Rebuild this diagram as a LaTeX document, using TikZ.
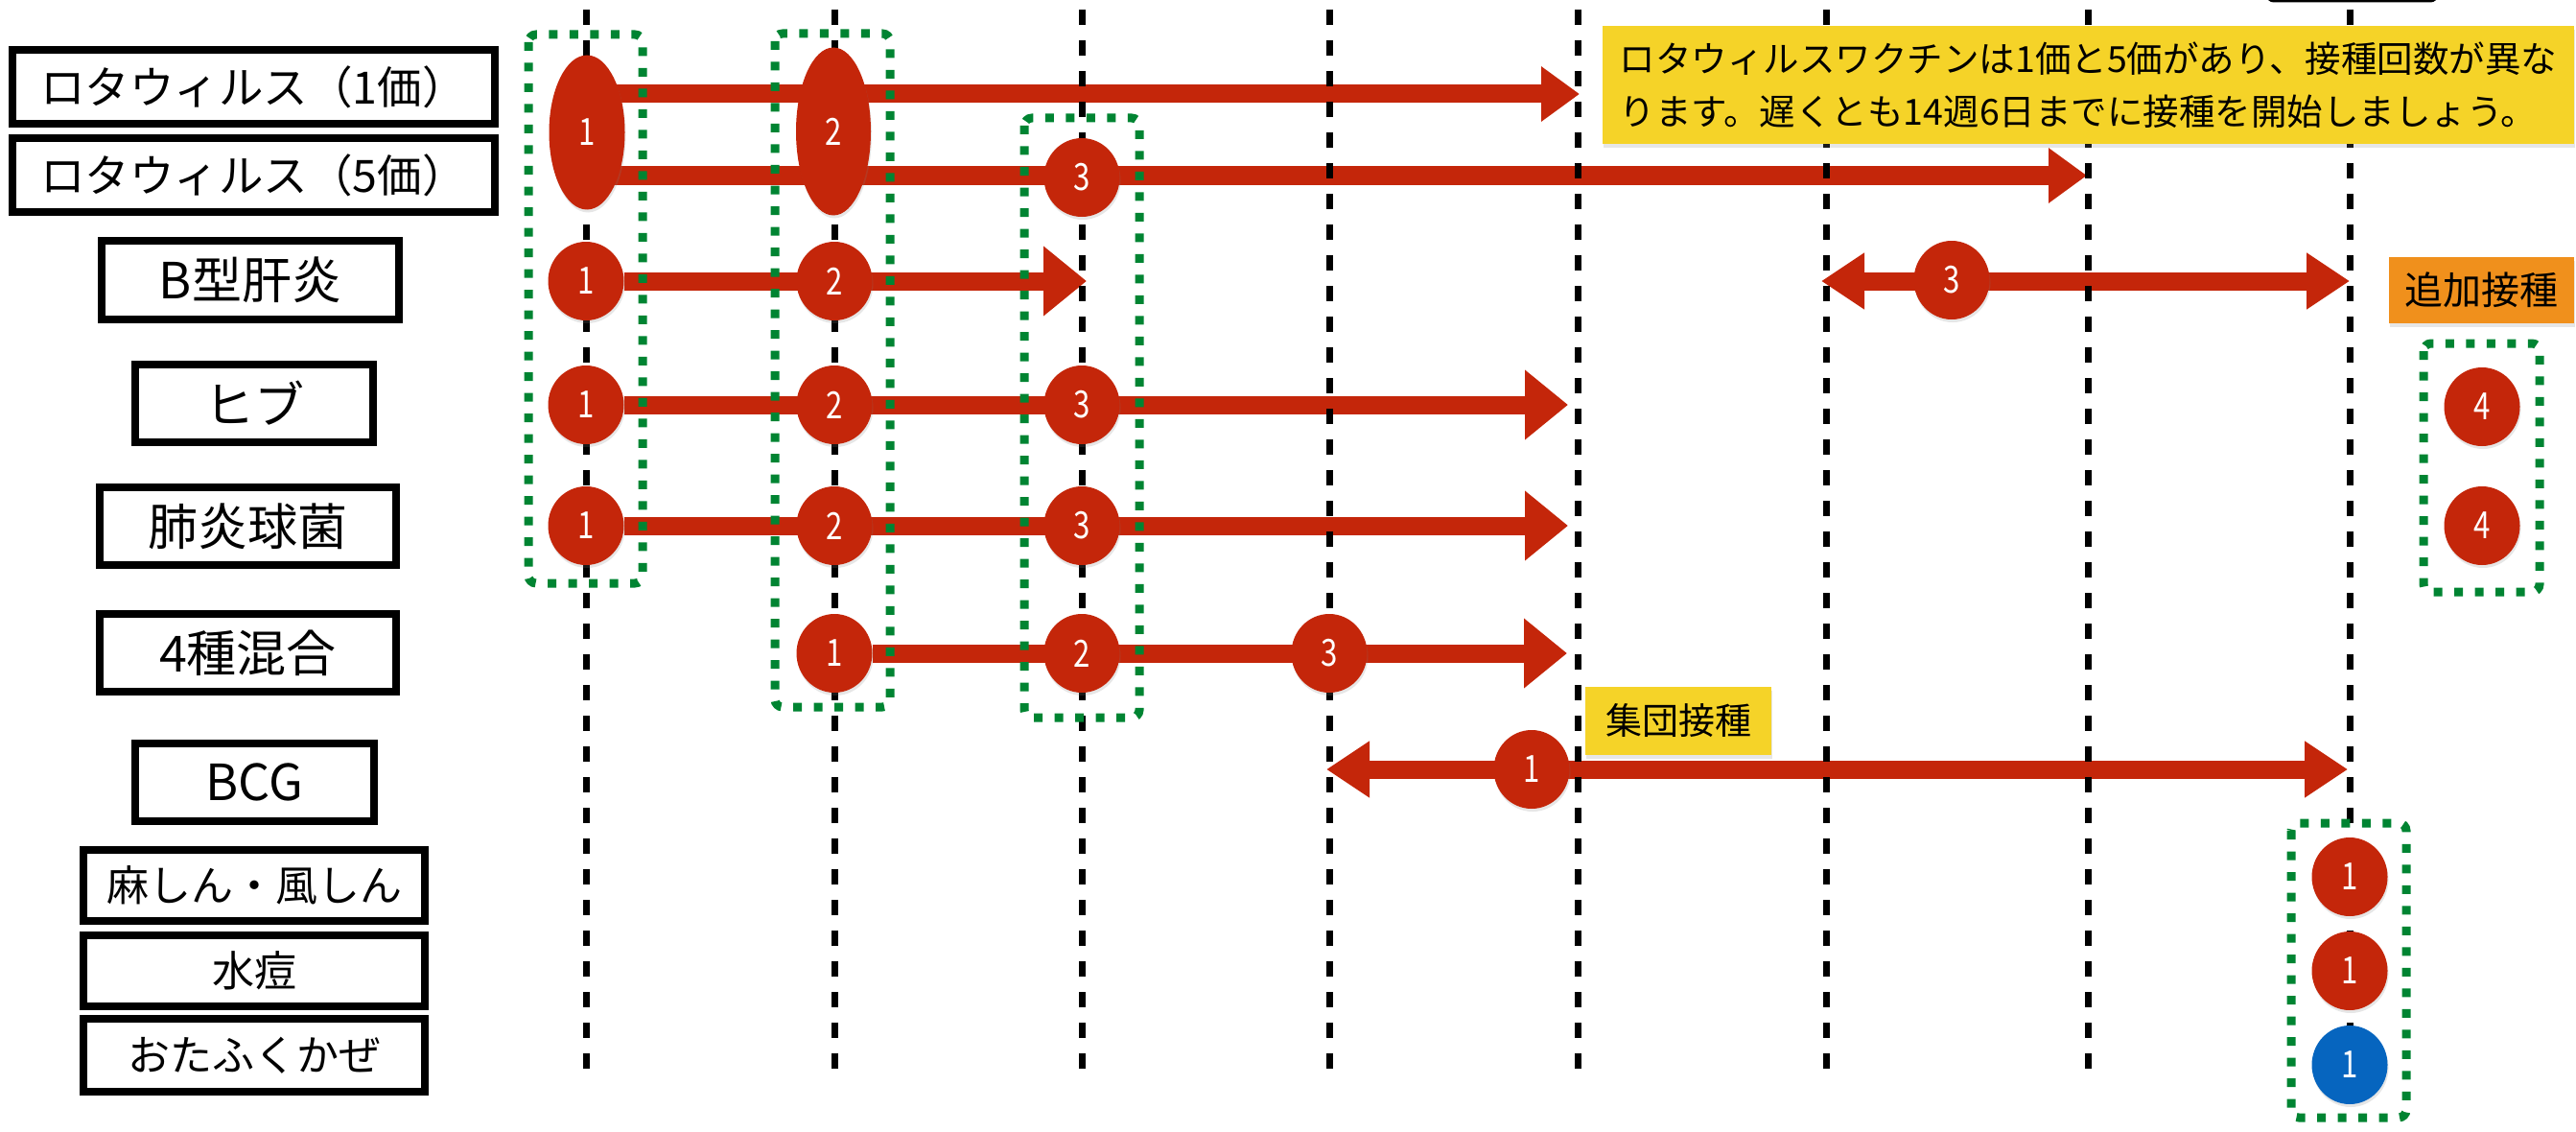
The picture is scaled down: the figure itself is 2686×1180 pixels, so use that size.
\documentclass[tikz,border=0pt]{standalone}
\usepackage{fontspec}
\setmainfont{Noto Sans CJK JP}
\newfontfamily\numfont[FakeStretch=0.8]{Noto Sans CJK JP}
\usetikzlibrary{arrows.meta,backgrounds,shapes.geometric,shadows}
\definecolor{vacRed}{RGB}{196,38,10}
\definecolor{vacBlue}{RGB}{6,101,191}
\definecolor{vacGreen}{RGB}{0,132,50}
\definecolor{noteYellow}{RGB}{245,211,40}
\definecolor{noteOrange}{RGB}{240,144,28}

\begin{document}
\begin{tikzpicture}
[x=1pt,y=-1pt,
 labelDecorate/.style={draw,line width=8pt,inner sep=0pt},%
 doseDecorate/.style={shape=ellipse,fill=vacRed,text=white,inner sep=0pt,
   minimum width=79pt,minimum height=82pt,font=\numfont\fontsize{39}{40}\selectfont,
   drop shadow={opacity=0.2,shadow xshift=1pt,shadow yshift=-3pt}},
 barDecorate/.style={draw=vacRed,line width=19pt,-{Triangle[width=70pt,length=45pt]}},
 barThinHead/.style={draw=vacRed,line width=19pt,-{Triangle[width=55pt,length=40pt]}},
 barBoth/.style={draw=vacRed,line width=19pt,
   {Triangle[width=56pt,length=45pt]}-{Triangle[width=56pt,length=45pt]}},
 gridDecorate/.style={draw,line width=7pt,dash pattern=on 16pt off 16pt},
 groupDecorate/.style={draw=vacGreen,line width=9pt,dash pattern=on 9pt off 12.5pt,rounded corners=8pt},
 noteDecorate/.style={fill=noteYellow,inner sep=0pt,
   drop shadow={opacity=0.2,shadow xshift=1pt,shadow yshift=-4pt}}]
\useasboundingbox (0,0) rectangle (2686,1180);
%% month lines
\foreach \gx in {611,870,1128,1386,1645,1904,2177,2450} {
  \draw[gridDecorate] (\gx,10) -- (\gx,1115);
}
\draw[line width=5pt,rounded corners=6pt] (2365,-40) rectangle (2540,0);
%% vaccine names
\foreach \nodename/\x/\y/\w/\h/\fs/\txt in {
  rotaOne/264.5/90.5/503/77/46.5/ロタウィルス（1価）,
  rotaFive/264.5/182.5/503/77/46.5/ロタウィルス（5価）,
  hepb/261/292/310/82/52/B型肝炎,
  hib/265/420.5/248/81/52/ヒブ,
  pneu/258.5/548.5/309/81/52/肺炎球菌,
  dpt/258.5/680.5/309/81/52/4種混合,
  bcg/265.5/815.5/249/81/52/BCG,
  mr/265/923/356/74/44/麻しん・風しん,
  vari/265/1012/356/74/44/水痘,
  mumps/265/1100/356/76/44/おたふくかぜ} {
  \node (\nodename) at (\x,\y) [labelDecorate,minimum width=\w pt,minimum height=\h pt,
    font=\fontsize{\fs}{\fs}\selectfont] {\txt};
}
%% doses
\node (rotaE1) at (612,138) [doseDecorate,minimum height=161pt] {1};
\node (rotaE2) at (869,137) [doseDecorate,minimum width=78pt,minimum height=175pt] {2};
\foreach \nodename/\x/\y/\num in {
  rotaC3/1128/185/3,
  hepbC1/611/293/1, hepbC2/870/293/2, hepbC3/2035/292/3,
  hibC1/611/422/1, hibC2/870/422/2, hibC3/1128/422/3, hibC4/2588/424/4,
  pneuC1/611/548/1, pneuC2/870/548/2, pneuC3/1128/548/3, pneuC4/2588/548/4,
  dptC1/870/681/1, dptC2/1128/681/2, dptC3/1386/681/3,
  bcgC1/1597/802/1,
  mrC1/2450/914/1, variC1/2450/1012/1} {
  \node (\nodename) at (\x,\y) [doseDecorate] {\num};
}
\node (mumpsC1) at (2450,1110) [doseDecorate,fill=vacBlue] {1};
%% notes
\node (rotaNote) at (2177.5,88.5) [noteDecorate,minimum width=1013pt,minimum height=123pt,
  align=left,font=\fontsize{37.5}{55}\selectfont]
  {ロタウィルスワクチンは1価と5価があり、接種回数が異な\\ります。遅くとも14週6日までに接種を開始しましょう。};
\node (boostNote) at (2587.5,302.5) [noteDecorate,fill=noteOrange,minimum width=193pt,
  minimum height=69pt,font=\fontsize{40}{44}\selectfont] {追加接種};
\node (groupNote) at (1750,751.5) [noteDecorate,minimum width=194pt,minimum height=71pt,
  font=\fontsize{38}{44}\selectfont] {集団接種};
%% same-day groups
\foreach \gx/\gy/\hx/\hy in {551/36/670/608, 808/35/928/737, 1068/123/1188/748,
  2527/358/2648/617, 2389/858/2509/1165} {
  \draw[groupDecorate] (\gx,\gy) rectangle (\hx,\hy);
}
%% periods
\foreach \nodename/\x/\y in {rota1End/1647/98, rota5End/2176/183, hepbEnd/1133/293,
  hepbFrom/1899/293, hepbTo/2450/293, hibEnd/1635/422, pneuEnd/1635/548,
  dptEnd/1634/681, bcgFrom/1383/802, bcgTo/2448/802} {
  \coordinate (\nodename) at (\x,\y);
}
\begin{pgfonlayer}{background}
\draw[barThinHead] (rotaE1.center |- rota1End) -- (rota1End);
\draw[barThinHead] (rotaE1.center |- rota5End) -- (rota5End);
\draw[barDecorate] (hepbC1) -- (hepbEnd);
\draw[barBoth] (hepbFrom) -- (hepbTo);
\draw[barDecorate] (hibC1) -- (hibEnd);
\draw[barDecorate] (pneuC1) -- (pneuEnd);
\draw[barDecorate] (dptC1) -- (dptEnd);
\draw[barBoth] (bcgFrom) -- (bcgTo);
\end{pgfonlayer}
\end{tikzpicture}
\end{document}
